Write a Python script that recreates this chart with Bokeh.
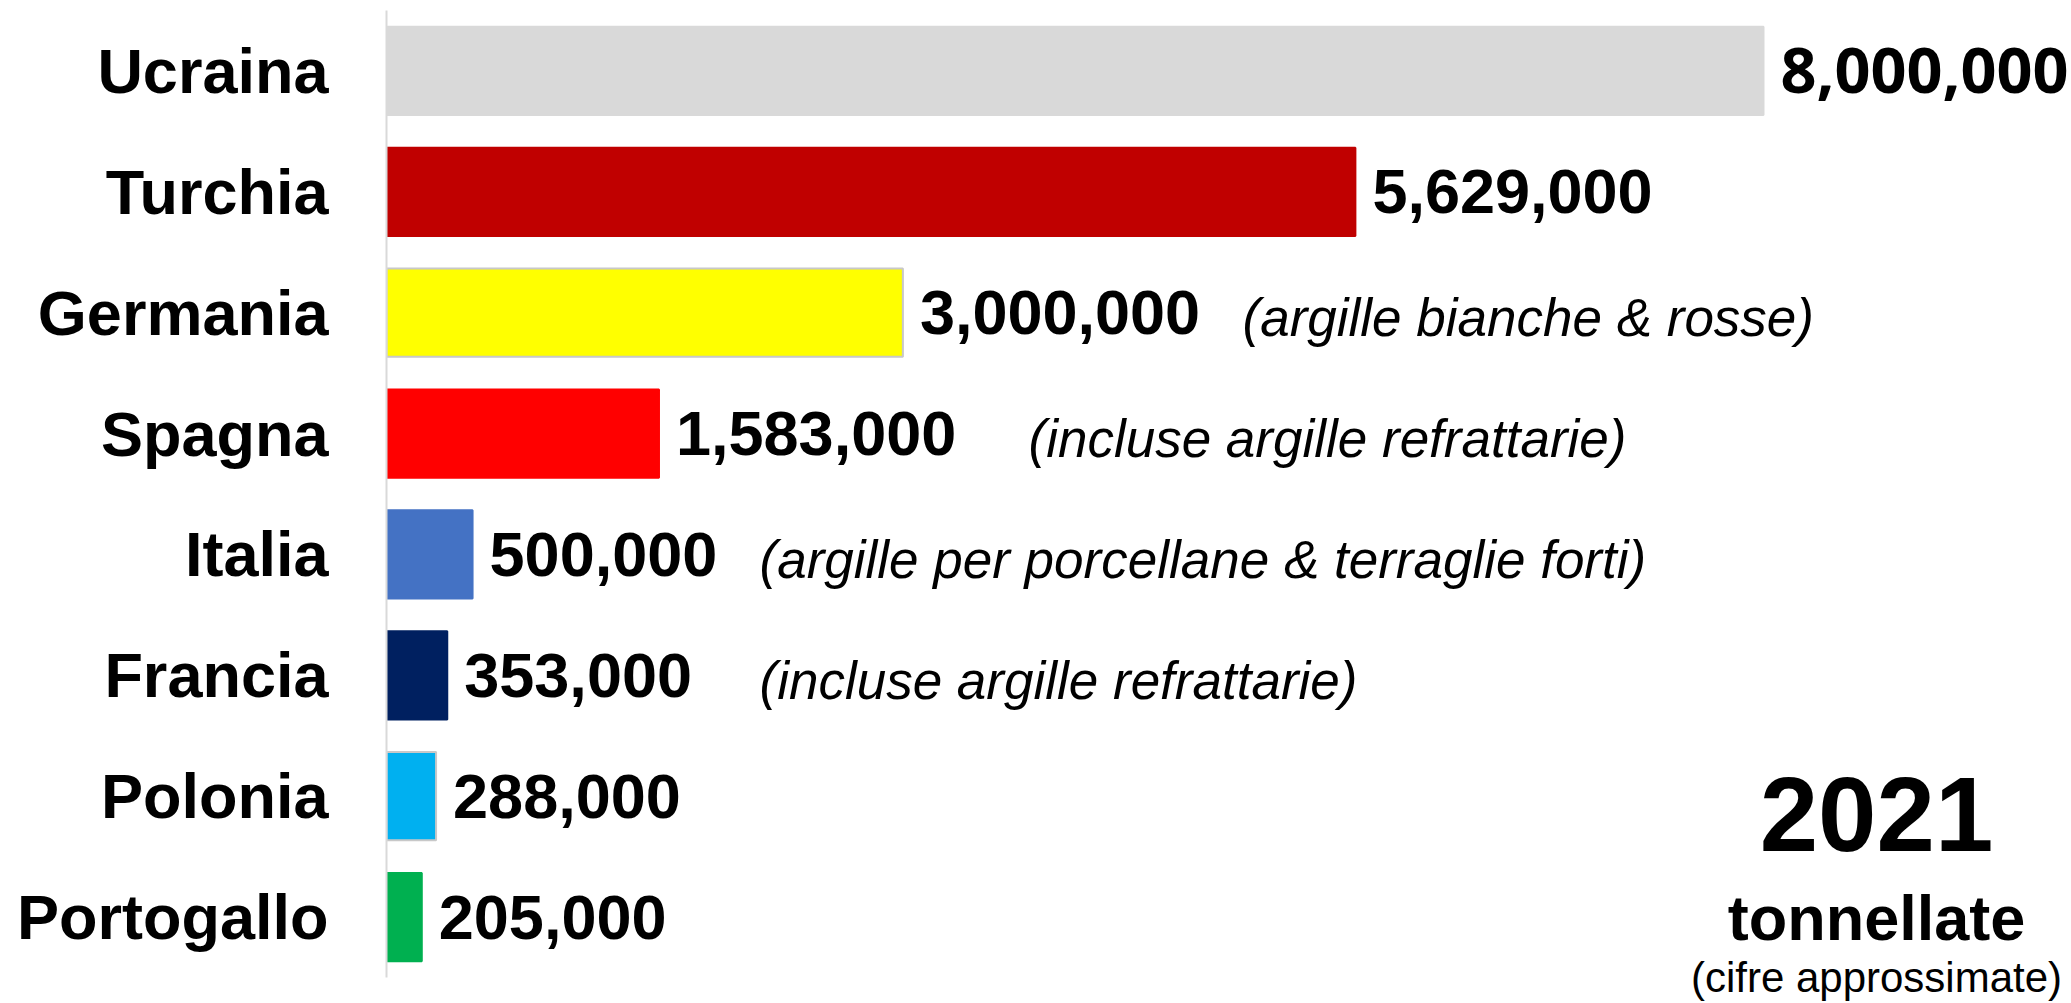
from bokeh.plotting import figure
from bokeh.models import ColumnDataSource, Range1d, Label, FixedTicker
from bokeh.core.properties import value
from bokeh.embed import file_html
from bokeh.resources import INLINE

# ---- data ----
countries = ["Ucraina", "Turchia", "Germania", "Spagna", "Italia", "Francia", "Polonia", "Portogallo"]
tonnes = [8000000, 5629000, 3000000, 1583000, 500000, 353000, 288000, 205000]
bar_colors = ["#D9D9D9", "#C00000", "#FFFF00", "#FF0000", "#4472C4", "#002060", "#00B0F0", "#00B050"]
edge_colors = ["#D9D9D9", "#C00000", "#C8C8C8", "#FF0000", "#4472C4", "#002060", "#C8C8C8", "#00B050"]
notes = ["", "", "(argille bianche & rosse)", "(incluse argille refrattarie)",
         "(argille per porcellane & terraglie forti)", "(incluse argille refrattarie)", "", ""]
year = "2021"
unit = "tonnellate"
caveat = "(cifre approssimate)"

# layout (pixel offsets of the notes from the axis)
note_px = [0, 0, 856, 642, 373, 373, 0, 0]

n = len(countries)
pos = [n - 1 - i for i in range(n)]          # Ucraina on top
labels = [f"{v:,}" for v in tonnes]
label_fonts = ["Open Sans"] + ["Liberation Sans"] * (n - 1)

src = ColumnDataSource(dict(
    pos=pos, tonnes=tonnes, color=bar_colors, edge=edge_colors,
    label=labels, font=label_fonts,
))
note_src = ColumnDataSource(dict(
    pos=[p_ for p_, t in zip(pos, notes) if t],
    note=[t for t in notes if t],
    xo=[px for px, t in zip(note_px, notes) if t],
    x0=[0 for t in notes if t],
))

W, H = 2071, 1003
LEFT, TOP = 386, 10
U = (977 - 10) / n                      # pixels per category
y_top = n - 0.5
y_bot = y_top - (H - TOP) / U

def ypix(py):
    return y_top - (py - TOP) / U

p = figure(
    width=W, height=H,
    y_range=Range1d(y_bot, y_top),
    x_range=Range1d(0, 8000000 * (W - LEFT) / 1377),
    output_backend="svg", toolbar_location=None,
    min_border_left=LEFT, min_border_right=0, min_border_top=TOP, min_border_bottom=0,
)
p.outline_line_color = None
p.xgrid.visible = False
p.ygrid.visible = False
p.xaxis.visible = False
p.background_fill_color = "white"
p.border_fill_color = "white"

p.hbar(y="pos", left=0, right="tonnes", height=0.73, source=src,
       fill_color="color", line_color="edge", line_width=2)

p.text(x="tonnes", y="pos", text="label", source=src,
       text_font="font", text_font_style="bold", text_font_size="63px",
       text_color="black", text_align="left", text_baseline="middle", x_offset=17)

p.text(x="x0", y="pos", text="note", source=note_src, x_offset="xo", y_offset=5,
       text_font=value("Liberation Sans"), text_font_style="italic", text_font_size="53px",
       text_color="black", text_align="left", text_baseline="middle")

ax = p.yaxis[0]
ax.ticker = FixedTicker(ticks=pos)
ax.major_label_overrides = {p_: c for p_, c in zip(pos, countries)}
ax.bounds = (-0.5, n - 0.5)
ax.axis_line_color = "#D9D9D9"
ax.axis_line_width = 2
ax.major_tick_line_color = None
ax.minor_tick_line_color = None
ax.major_tick_out = 0
ax.major_tick_in = 0
ax.major_label_standoff = 58
ax.major_label_text_font = "Liberation Sans"
ax.major_label_text_font_style = "bold"
ax.major_label_text_font_size = "63px"
ax.major_label_text_color = "black"

# bottom-right block
xc = 8000000 * (1876 - LEFT) / 1377
p.add_layout(Label(x=xc, y=ypix(814), text=year, text_align="center",
                   text_baseline="middle", text_font="Liberation Sans",
                   text_font_style="bold", text_font_size="105px", text_color="black"))
p.add_layout(Label(x=xc, y=ypix(917), text=unit, text_align="center",
                   text_baseline="middle", text_font="Liberation Sans",
                   text_font_style="bold", text_font_size="63px", text_color="black"))
p.add_layout(Label(x=xc, y=ypix(977), text=caveat, text_align="center",
                   text_baseline="middle", text_font="Liberation Sans",
                   text_font_size="42px", text_color="black"))

open("out.html", "w").write(file_html(p, INLINE))
